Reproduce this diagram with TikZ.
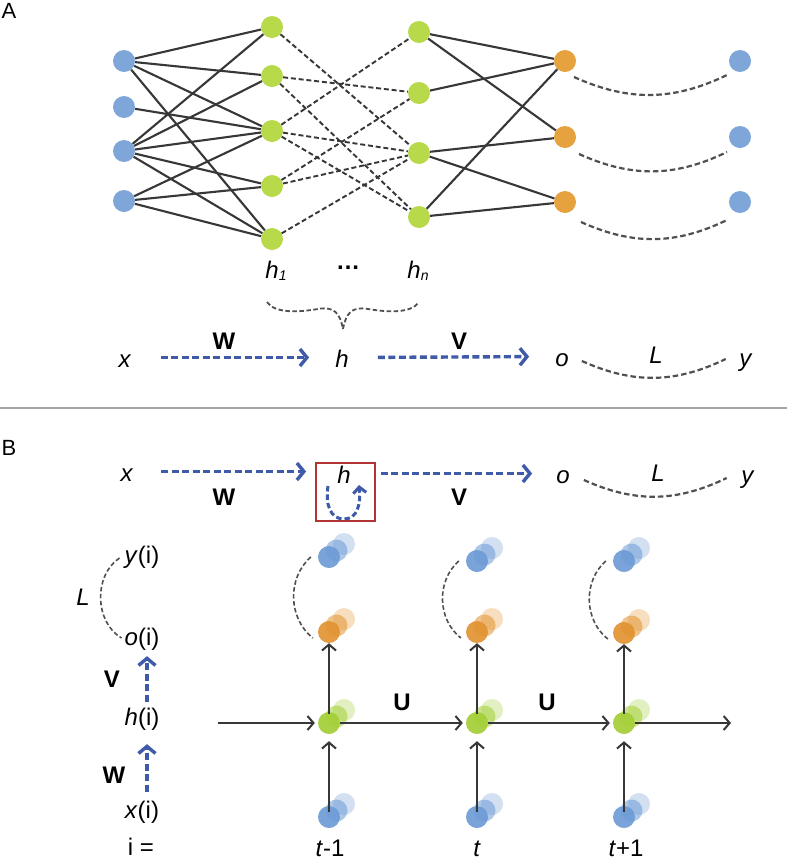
\documentclass[tikz,border=0pt]{standalone}
\usepackage{fontspec}
\setmainfont{Liberation Sans}
\usetikzlibrary{arrows.meta}
\definecolor{cblue}{RGB}{126,166,216}
\definecolor{cgreen}{RGB}{184,218,74}
\definecolor{corange}{RGB}{230,162,62}
\definecolor{cbluB}{RGB}{108,154,214}
\definecolor{cgrnB}{RGB}{162,206,52}
\definecolor{corgB}{RGB}{226,146,46}
\definecolor{carrow}{RGB}{62,90,168}
\definecolor{cdark}{RGB}{55,55,55}
\definecolor{closs}{RGB}{80,80,80}
\definecolor{cred}{RGB}{178,52,52}
\definecolor{csep}{RGB}{165,165,165}
\newcommand{\rnnstack}[4]{%
  \node[stk,fill=#4,fill opacity=0.3,xshift=15pt,yshift=13pt] (#1c) at (#2,#3) {};
  \node[stk,fill=#4,fill opacity=0.55,xshift=7.5pt,yshift=6.5pt] (#1b) at (#2,#3) {};
  \node[stk,fill=#4,fill opacity=0.9] (#1) at (#2,#3) {};}
\begin{document}
\begin{tikzpicture}[x=1pt,y=-1pt,
  neuron/.style={circle,minimum size=22pt,inner sep=0pt,fill=#1},
  stk/.style={circle,minimum size=22pt,inner sep=0pt},
  wire/.style={draw=cdark,line width=2.1pt},
  dwire/.style={draw=cdark,line width=1.9pt,dash pattern=on 5pt off 2.8pt},
  loss/.style={draw=closs,line width=2.2pt,dash pattern=on 5.5pt off 3pt},
  lossthin/.style={draw=closs,line width=1.6pt,dash pattern=on 4.5pt off 2.5pt},
  warrow/.style={draw=carrow,line width=3.4pt,dash pattern=on 7pt off 3.5pt,-{Straight Barb[length=7pt,width=17pt]}},
  karrow/.style={draw=cdark,line width=2pt,-{Straight Barb[length=6pt,width=14pt]}},
  lbl/.style={font=\fontsize{24}{28}\selectfont,inner sep=0pt,anchor=base,text height=19pt,text depth=0pt},
  sec/.style={font=\fontsize{22}{26}\selectfont,inner sep=0pt,anchor=base},
]
\useasboundingbox[fill=white] (0,0) rectangle (787,860);

%%%%%%%%%%%%%%%% PART A
\node[sec] (labA) at (9,18) {A};
\foreach \n/\y in {1/61,2/107,3/151,4/201} \node[neuron=cblue] (i\n) at (124,\y) {};
\foreach \n/\y in {1/27,2/76,3/131,4/186,5/239} \node[neuron=cgreen] (g\n) at (272,\y) {};
\foreach \n/\y in {1/32,2/93,3/153,4/217} \node[neuron=cgreen] (n\n) at (419,\y) {};
\foreach \n/\y in {1/61,2/137,3/202} {\node[neuron=corange] (o\n) at (565,\y) {}; \node[neuron=cblue] (t\n) at (740,\y) {};}

\foreach \a/\b in {1/1,1/2,1/3,1/5,2/3,3/1,3/2,3/3,3/4,3/5,4/3,4/4,4/5} \draw[wire] (i\a) -- (g\b);
\foreach \a/\b in {1/3,2/2,2/4,3/1,3/3,3/4,4/2,4/3,5/3} \draw[dwire] (g\a) -- (n\b);
\foreach \a/\b in {1/1,1/2,2/1,3/2,3/3,4/1,4/3} \draw[wire] (n\a) -- (o\b);

\draw[loss] ([xshift=9pt,yshift=-16pt]o1.center) to[bend right=25] ([xshift=-13pt,yshift=-14pt]t1.center);
\draw[loss] ([xshift=14pt,yshift=-17pt]o2.center) to[bend right=25] ([xshift=-13pt,yshift=-15pt]t2.center);
\draw[loss] ([xshift=16pt,yshift=-20pt]o3.center) to[bend right=25] ([xshift=-13pt,yshift=-18pt]t3.center);

\node[lbl] (h1lab) at (276,278) {\textit{h\kern0.3pt\raisebox{-2pt}{\fontsize{14}{14}\selectfont 1}}};
\node[lbl] (dots) at (348,269) {\textbf{…}};
\node[lbl] (hnlab) at (418,278) {\textit{h\kern0.3pt\raisebox{-2pt}{\fontsize{14}{14}\selectfont n}}};

% brace
\draw[lossthin,line width=1.8pt] (267,302) .. controls (275,314) and (300,312) .. (318,309)
  .. controls (335,306) and (340,314) .. (343,329)
  .. controls (346,314) and (351,306) .. (368,309)
  .. controls (386,312) and (411,314) .. (419,302);

\node[lbl] (xA) at (125,367) {\textit{x}};
\node[lbl] (hA) at (342,367) {\textit{h}};
\node[lbl] (oA) at (562,366) {\textit{o}};
\node[lbl] (yA) at (746,366) {\textit{y}};
\node[lbl] (LA) at (656,363) {\textit{L}};
\node[lbl] (WA) at (224,349) {\textbf{W}};
\node[lbl] (VA) at (459,349) {\textbf{V}};
\draw[warrow,shorten <=29pt,shorten >=26pt] (xA.east) -- (hA.west);
\draw[warrow,shorten <=29pt,shorten >=26pt] (hA.east) -- (oA.west);
\draw[loss] ([xshift=13pt,yshift=-4.5pt]oA.east) to[bend right=25] ([xshift=-13.5pt,yshift=-2.5pt]yA.west);

% separator
\draw[csep,line width=2pt] (0,408) -- (787,408);

%%%%%%%%%%%%%%%% PART B
\node[sec] (labB) at (9,455) {B};
\node[lbl] (xB) at (127,481) {\textit{x}};
\node[draw=cred,line width=1.8pt,minimum width=59pt,minimum height=58pt,inner sep=0pt] (hbox) at (345.5,492) {};
\node[lbl] (hB) at (344,483) {\textit{h}};
\node[lbl] (oB) at (563,483) {\textit{o}};
\node[lbl] (yB) at (748,483) {\textit{y}};
\node[lbl] (LB) at (658,481) {\textit{L}};
\node[lbl] (WB) at (224,505) {\textbf{W}};
\node[lbl] (VB) at (459,505) {\textbf{V}};
\draw[warrow,shorten <=27.5pt,shorten >=9pt] (xB.east) -- (xB.east -| hbox.west);
\draw[warrow,shorten <=5pt,shorten >=24pt] (hbox.east |- oB.west) -- (oB.west);
\draw[warrow,line width=3pt,dash pattern=on 5.5pt off 3pt,-{Straight Barb[length=6pt,width=13pt]}]
  (328,486) .. controls (325,506) and (331,519) .. (344,519) .. controls (357,519) and (361,505) .. (359,485);
\draw[loss] ([xshift=14pt,yshift=-6.5pt]oB.east) to[bend right=25] ([xshift=-14.5pt,yshift=-4.5pt]yB.west);

% left column
\node[lbl] (yi) at (142,563) {\textit{y}(i)};
\node[lbl] (oi) at (142,645) {\textit{o}(i)};
\node[lbl] (hi) at (142,725) {\textit{h}(i)};
\node[lbl] (xi) at (142,818) {\textit{x}(i)};
\node[lbl] (ieq) at (141,855) {i =};
\node[lbl] (Li) at (83,605) {\textit{L}};
\node[lbl] (Vi) at (112,687) {\textbf{V}};
\node[lbl] (Wi) at (114,783) {\textbf{W}};
\draw[warrow,shorten <=4pt,shorten >=11pt] ([xshift=5pt]hi.north) -- ([xshift=5pt]oi.south);
\draw[warrow,shorten <=7pt,shorten >=19pt] ([xshift=5pt]xi.north) -- ([xshift=5pt]hi.south);
\draw[lossthin] ([xshift=-5pt,yshift=-4.5pt]yi.west) to[bend right=58] ([xshift=-3pt,yshift=-2.5pt]oi.west);

% unrolled columns
\rnnstack{ya}{329}{557}{cbluB}
\rnnstack{yb}{477}{561}{cbluB}
\rnnstack{yc}{624}{561}{cbluB}
\rnnstack{oa}{329}{632}{corgB}
\rnnstack{ob}{477}{632}{corgB}
\rnnstack{oc}{624}{633}{corgB}
\rnnstack{ga}{329}{723}{cgrnB}
\rnnstack{gb}{477}{723}{cgrnB}
\rnnstack{gc}{624}{723}{cgrnB}
\rnnstack{xa}{329}{817}{cbluB}
\rnnstack{xb}{477}{817}{cbluB}
\rnnstack{xc}{624}{817}{cbluB}

\coordinate (hin) at (218,723);
\coordinate (hout) at (731,723);
\draw[karrow,shorten >=3pt] (hin) -- (ga);
\draw[karrow,shorten >=3pt] (ga) -- (gb);
\draw[karrow,shorten >=3pt] (gb) -- (gc);
\draw[karrow] (gc) -- (hout);
\foreach \c in {a,b,c} {
  \draw[karrow,shorten >=7pt,shorten <=-6pt] (x\c) -- (g\c);
  \draw[karrow,shorten <=-2pt] (g\c) -- (o\c);
  \draw[lossthin] ([xshift=-7pt]y\c.west) to[bend right=50] ([xshift=-5pt,yshift=-6pt]o\c.west);
}
\node[lbl,font=\fontsize{24}{28}\selectfont\bfseries] (U1) at (402,710) {U};
\node[lbl,font=\fontsize{24}{28}\selectfont\bfseries] (U2) at (547,710) {U};

\node[lbl] (ta) at (330,856) {\textit{t}-1};
\node[lbl] (tb) at (477,856) {\textit{t}};
\node[lbl] (tc) at (626,856) {\textit{t}+1};
\end{tikzpicture}
\end{document}
